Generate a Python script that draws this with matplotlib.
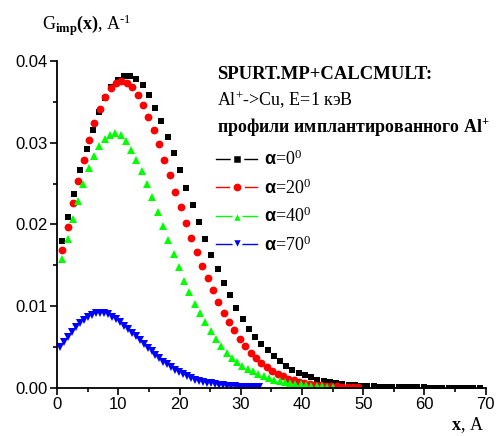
import matplotlib
matplotlib.use("Agg")
import matplotlib.pyplot as plt
import numpy as np
from matplotlib.lines import Line2D
from matplotlib.ticker import MultipleLocator, FormatStrFormatter

plt.rcParams["font.family"] = ["Liberation Sans", "DejaVu Sans"]
plt.rcParams["mathtext.fontset"] = "custom"
plt.rcParams["mathtext.rm"] = "Liberation Serif"
plt.rcParams["mathtext.it"] = "Liberation Serif:italic"
plt.rcParams["mathtext.bf"] = "Liberation Serif:bold"
plt.rcParams["mathtext.sf"] = "Liberation Sans:bold"

# depth grids (start, step) of the profiles, A
x0_start, x0_step = 0.70, 1.02
x20_start, x20_step = 0.80, 0.88
x40_start, x40_step = 0.82, 0.866
x70_start, x70_step = 0.45, 0.65

# G_imp(x), 1/A, alpha = 0 deg
g_a0 = [0.0179, 0.0209, 0.0237, 0.0266, 0.0292, 0.0316, 0.0337, 0.0355, 0.0368, 0.0377,
        0.0382, 0.0382, 0.0378, 0.0370, 0.0358, 0.0343, 0.0326, 0.0307, 0.0287, 0.0266,
        0.0245, 0.0224, 0.0203, 0.0182, 0.0163, 0.0145, 0.0128, 0.0113, 0.0098, 0.0084,
        0.0072, 0.0062, 0.0054, 0.0046, 0.0039, 0.0033, 0.0027, 0.0022, 0.0018, 0.0015,
        0.0013, 0.0010, 0.00085, 0.0007, 0.00057, 0.00046, 0.00037, 0.0003, 0.00024, 0.00019,
        0.00015, 0.00012, 0.0001, 0.00008, 0.00006, 0.00005, 0.00004, 0.00003, 0.00003, 0.00002,
        0.00002, 0.00001, 0.00001, 0.00001, 0.00001, 0.0, 0.0, 0.0]
# alpha = 20 deg
g_a20 = [0.0168, 0.0197, 0.0226, 0.0253, 0.0279, 0.0303, 0.0324, 0.0341, 0.0356, 0.0367,
         0.0373, 0.0375, 0.0373, 0.0368, 0.0358, 0.0346, 0.0331, 0.0315, 0.0298, 0.0279,
         0.0260, 0.0240, 0.0221, 0.0202, 0.0183, 0.0166, 0.0149, 0.0134, 0.0119, 0.0105,
         0.0092, 0.0081, 0.0071, 0.0060, 0.0051, 0.0043, 0.0036, 0.0030, 0.0025, 0.0020,
         0.0017, 0.0014, 0.0011, 0.0009, 0.00074, 0.0006, 0.00048, 0.00039, 0.00031, 0.00025,
         0.0002, 0.00016, 0.00012, 0.0001, 0.00008, 0.00006]
# alpha = 40 deg
g_a40 = [0.0157, 0.0182, 0.0206, 0.0229, 0.0250, 0.0269, 0.0284, 0.0296, 0.0305, 0.0310,
         0.0312, 0.0309, 0.0302, 0.0291, 0.0279, 0.0265, 0.0249, 0.0233, 0.0215, 0.0198,
         0.0181, 0.0164, 0.0148, 0.0131, 0.0117, 0.0103, 0.0091, 0.0080, 0.0069, 0.0060,
         0.0051, 0.0043, 0.0036, 0.0031, 0.0027, 0.0023, 0.0020, 0.0017, 0.0014, 0.0012,
         0.0010, 0.00085, 0.0007, 0.00058, 0.00048, 0.0004, 0.00032, 0.00026, 0.00021, 0.00017,
         0.00013, 0.0001]
# alpha = 70 deg
g_a70 = [0.0050, 0.0056, 0.0062, 0.0068, 0.0074, 0.0079, 0.0083, 0.0087, 0.0089, 0.0091,
         0.0092, 0.0091, 0.0090, 0.0087, 0.0084, 0.0080, 0.0076, 0.0072, 0.0067, 0.0063,
         0.0058, 0.0054, 0.0049, 0.0045, 0.0040, 0.0036, 0.0032, 0.0029, 0.0025, 0.0022,
         0.0019, 0.0017, 0.0014, 0.0012, 0.0010, 0.00088, 0.00074, 0.00062, 0.00052, 0.00043,
         0.00036, 0.0003, 0.00025, 0.0002, 0.00016, 0.00013, 0.0001, 0.00008, 0.00006, 0.00005,
         0.00004]

series = [
    (x0_start, x0_step, g_a0, "#000000", "s", 5.0, r"$\mathsf{\alpha}$=0$^0$"),
    (x20_start, x20_step, g_a20, "#ff0000", "o", 5.6, r"$\mathsf{\alpha}$=20$^0$"),
    (x40_start, x40_step, g_a40, "#00ff00", "^", 6.2, r"$\mathsf{\alpha}$=40$^0$"),
    (x70_start, x70_step, g_a70, "#0000ff", "v", 6.2, r"$\mathsf{\alpha}$=70$^0$"),
]

fig = plt.figure(figsize=(4.96, 4.36), dpi=100)
ax = fig.add_axes([0.1155, 0.1108, 0.8635, 0.7493])

handles = []
for start, step, g, color, marker, ms, label in series:
    x = start + step * np.arange(len(g))
    ax.plot(x, g, linestyle="none", marker=marker, markersize=ms,
            color=color, markeredgewidth=0)
    # legend sample: short line broken around the symbol
    handles.append(Line2D([], [], color=color, lw=1.0, marker=marker,
                          markersize=ms + 2.5, markerfacecolor=color,
                          markeredgecolor="white", markeredgewidth=2.5, label=label))

ax.set_xlim(0, 70)
ax.set_ylim(0, 0.04)
ax.xaxis.set_major_locator(MultipleLocator(10))
ax.xaxis.set_minor_locator(MultipleLocator(5))
ax.yaxis.set_major_locator(MultipleLocator(0.01))
ax.yaxis.set_minor_locator(MultipleLocator(0.005))
ax.yaxis.set_major_formatter(FormatStrFormatter("%.2f"))

for side in ("top", "right"):
    ax.spines[side].set_visible(False)
for side in ("left", "bottom"):
    ax.spines[side].set_linewidth(1.3)
ax.tick_params(which="major", direction="out", length=5, width=1.2, labelsize=12, pad=2)
ax.tick_params(which="minor", direction="out", length=3, width=1.2)

serif = "Liberation Serif"
ax.text(0.3728, 0.960, "SPURT.MP+CALCMULT:", transform=ax.transAxes, family=serif,
        fontsize=13.4, fontweight="bold", va="center", ha="left")
ax.text(0.3728, 0.881, "Al$^{+}$->Cu, E=1 кэВ", transform=ax.transAxes, family=serif,
        fontsize=13, va="center", ha="left")
ax.text(0.3728, 0.798, r"профили имплантированного Al$^{\mathbf{+}}$", transform=ax.transAxes,
        family=serif, fontsize=12.9, fontweight="bold", va="center", ha="left")

ax.legend(handles=handles, loc="upper left", bbox_to_anchor=(0.3704, 0.7276),
          frameon=False, borderpad=0, borderaxespad=0, handlelength=2.3,
          handletextpad=0.35, labelspacing=0.5,
          prop={"family": serif, "size": 13})

fig.text(0.085, 0.942, r"G$_{\mathbf{imp}}$$\mathbf{(x)}$, A$^{\text{-}1}$",
         family=serif, fontsize=13, ha="left", va="center")
fig.text(0.975, 0.003, r"$\mathbf{x}$, A", family=serif, fontsize=13,
         ha="right", va="bottom")

fig.savefig("out.png", dpi=100)
